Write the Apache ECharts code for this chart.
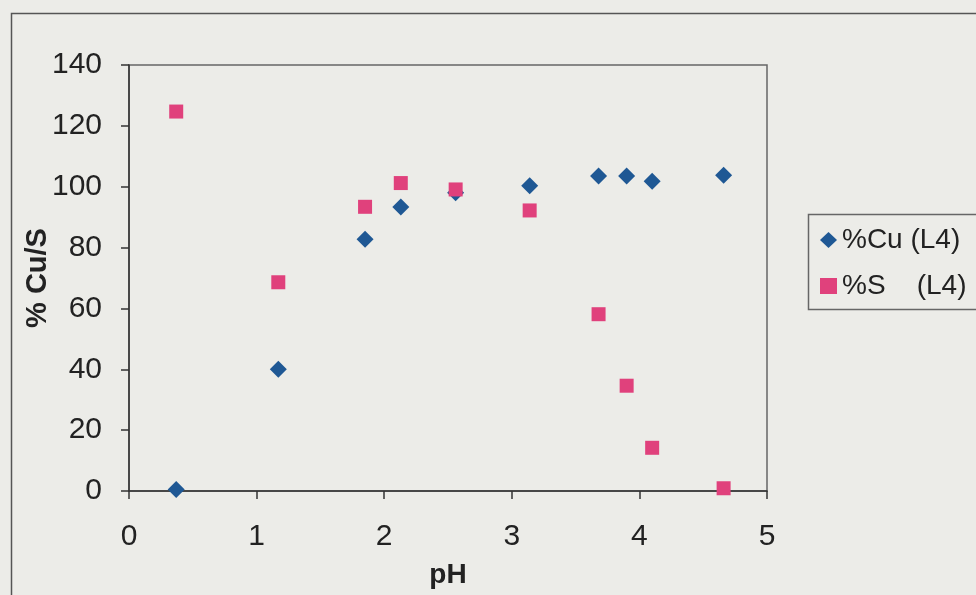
<!DOCTYPE html>
<html>
<head>
<meta charset="utf-8">
<style>
  html, body { margin: 0; padding: 0; background: #ecece8; }
  #chart { width: 976px; height: 595px; }
</style>
<script src="https://cdn.jsdelivr.net/npm/echarts@6/dist/echarts.min.js"></script>
</head>
<body>
<div id="chart"></div>
<script>
// pH of each sample and the recovered fractions of copper and sulphur
var phValues = [0.37, 1.17, 1.85, 2.13, 2.56, 3.14, 3.68, 3.90, 4.10, 4.66];
var cuPercent = [0.5, 40, 82.7, 93.3, 98, 100.3, 103.5, 103.5, 101.8, 103.8];
var sPercent = [124.7, 68.6, 93.4, 101.2, 99.1, 92.2, 58.1, 34.6, 14.2, 0.9];

var seriesNames = ['%Cu (L4)', '%S    (L4)'];
var xTitle = 'pH';
var yTitle = '% Cu/S';

function pairs(xs, ys) {
  return xs.map(function (x, i) { return [x, ys[i]]; });
}

var chart = echarts.init(document.getElementById('chart'));
var font = 'Liberation Sans, Arial, sans-serif';

chart.setOption({
  backgroundColor: '#ecece8',
  animation: false,
  graphic: [
    { type: 'rect', left: 9, top: 11, shape: { width: 1000, height: 1000 },
      style: { fill: 'none', stroke: '#555', lineWidth: 1.5 }, z: -1 },
    { type: 'rect', left: 806, top: 212, shape: { width: 200, height: 95 },
      style: { fill: 'none', stroke: '#666', lineWidth: 1.5 }, z: -1 }
  ],
  grid: {
    left: 129, right: 209, top: 65, bottom: 104,
    show: true, borderColor: '#666', borderWidth: 1.5, backgroundColor: 'transparent'
  },
  legend: {
    orient: 'vertical',
    left: 815, top: 221,
    itemWidth: 17, itemHeight: 16, itemGap: 18,
    textStyle: { fontFamily: font, fontSize: 28, color: '#222' },
    data: [
      { name: seriesNames[0], icon: 'diamond' },
      { name: seriesNames[1], icon: 'rect' }
    ]
  },
  xAxis: {
    type: 'value', min: 0, max: 5, interval: 1,
    name: xTitle, nameLocation: 'middle', nameGap: 70, nameMoveOverlap: false,
    nameTextStyle: { fontFamily: font, fontSize: 28, fontWeight: 'bold', color: '#222' },
    axisLine: { show: true, onZero: false, lineStyle: { color: '#333', width: 1.5 } },
    axisTick: { show: true, inside: false, length: 8, lineStyle: { color: '#333', width: 1.5 } },
    axisLabel: { fontFamily: font, fontSize: 30, color: '#222', margin: 31 },
    splitLine: { show: false }
  },
  yAxis: {
    type: 'value', min: 0, max: 140, interval: 20,
    name: yTitle, nameLocation: 'middle', nameGap: 77, nameMoveOverlap: false,
    nameTextStyle: { fontFamily: font, fontSize: 29, fontWeight: 'bold', color: '#222' },
    axisLine: { show: true, onZero: false, lineStyle: { color: '#333', width: 1.5 } },
    axisTick: { show: true, inside: false, length: 8, lineStyle: { color: '#333', width: 1.5 } },
    axisLabel: { fontFamily: font, fontSize: 30, color: '#222', margin: 27 },
    splitLine: { show: false }
  },
  series: [
    {
      name: seriesNames[0], type: 'scatter', symbol: 'diamond', symbolSize: 17,
      itemStyle: { color: '#1f5894', opacity: 1 },
      data: pairs(phValues, cuPercent), z: 2
    },
    {
      name: seriesNames[1], type: 'scatter', symbol: 'rect', symbolSize: 14,
      itemStyle: { color: '#e0417c', opacity: 1 },
      data: pairs(phValues, sPercent), z: 3
    }
  ]
});
</script>
</body>
</html>
